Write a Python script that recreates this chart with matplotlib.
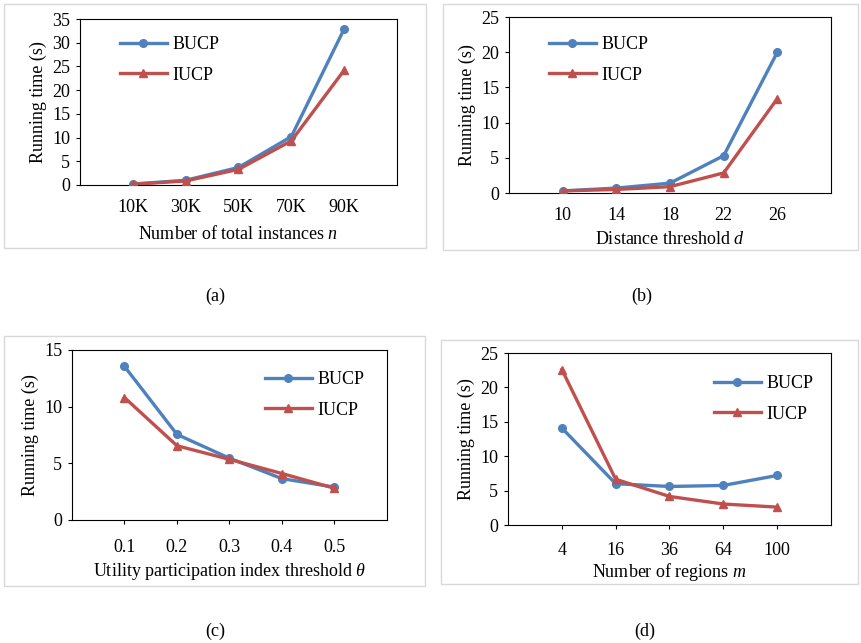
import numpy as np
import matplotlib
matplotlib.use("Agg")
import matplotlib.pyplot as plt
from matplotlib.patches import Rectangle

plt.rcParams['font.family'] = ['Liberation Serif', 'DejaVu Serif']
plt.rcParams['mathtext.fontset'] = 'custom'
plt.rcParams['mathtext.rm'] = 'Liberation Serif'
plt.rcParams['mathtext.it'] = 'Liberation Serif:italic'

# data
labels_a = ["10K", "30K", "50K", "70K", "90K"]
bucp_a = [0.2, 1.0, 3.7, 10.2, 32.9]
iucp_a = [0.15, 0.85, 3.3, 9.3, 24.2]

labels_b = ["10", "14", "18", "22", "26"]
bucp_b = [0.3, 0.7, 1.4, 5.3, 20.0]
iucp_b = [0.3, 0.5, 0.9, 2.85, 13.4]

labels_c = ["0.1", "0.2", "0.3", "0.4", "0.5"]
bucp_c = [13.55, 7.55, 5.45, 3.65, 2.9]
iucp_c = [10.8, 6.55, 5.35, 4.1, 2.8]

labels_d = ["4", "16", "36", "64", "100"]
bucp_d = [14.1, 6.0, 5.6, 5.75, 7.2]
iucp_d = [22.6, 6.65, 4.15, 3.05, 2.6]

W, H = 862, 643
blue = "#4F81BD"
red = "#C0504D"
fs = 13

fig = plt.figure(figsize=(W / 100, H / 100), dpi=100)


def px_rect(x0, y0, x1, y1):
    # pixel box (top-left origin) -> figure fraction rect
    return [x0 / W, 1 - y1 / H, (x1 - x0) / W, (y1 - y0) / H]


panels = [
    # axes box, outer box, labels, bucp, iucp, ymax, ystep, xlabel, legend pos,
    # caption pos, caption, tick pad, label pad
    ((80, 19, 397, 185), (4, 4, 426, 248), labels_a, bucp_a, iucp_a, 35, 5,
     "Number of total instances $n$", (120, 36), (215, 296), "(a)", 10, 6.5),
    ((509, 17, 831, 193), (443, 4, 858, 250), labels_b, bucp_b, iucp_b, 25, 5,
     "Distance threshold $d$", (549, 36), (642, 296), "(b)", 10, 5),
    ((72, 350, 387, 520), (4, 336, 425, 586), labels_c, bucp_c, iucp_c, 15, 5,
     r"Utility participation index threshold $\theta$", (265, 371), (215, 631), "(c)", 11, 3),
    ((508, 353, 831, 525), (441, 340, 858, 584), labels_d, bucp_d, iucp_d, 25, 5,
     "Number of regions $m$", (714, 375), (645, 631), "(d)", 9, 1.5),
]

for box, outer, labels, bucp, iucp, ymax, ystep, xlab, legpos, cappos, cap, xpad, lpad in panels:
    # light grey frame around each chart
    fig.patches.append(Rectangle((outer[0] / W, 1 - outer[3] / H),
                                 (outer[2] - outer[0]) / W, (outer[3] - outer[1]) / H,
                                 transform=fig.transFigure, fill=False,
                                 edgecolor="#d9d9d9", linewidth=1.0))
    ax = fig.add_axes(px_rect(*box))
    x = np.arange(1, len(labels) + 1)
    ax.plot(x, bucp, color=blue, lw=2.4, marker="o", ms=5.5, label="BUCP", zorder=3)
    ax.plot(x, iucp, color=red, lw=2.4, marker="^", ms=6, label="IUCP", zorder=3)
    ax.set_xlim(0, len(labels) + 1)
    ax.set_ylim(0, ymax)
    ax.set_yticks(np.arange(0, ymax + 1, ystep))
    ax.set_xticks(x)
    ax.set_xticklabels(labels)
    ax.tick_params(axis="both", labelsize=fs)
    ax.tick_params(axis="y", length=3, width=0.8, pad=4)
    ax.tick_params(axis="x", length=3 if cap in ("(c)", "(d)") else 0, width=0.8, pad=xpad)
    for s in ax.spines.values():
        s.set_linewidth(0.8)
    ax.set_ylabel("Running time (s)", fontsize=fs, labelpad=4)
    ax.set_xlabel(xlab, fontsize=fs, labelpad=lpad)
    ax.legend(loc="upper left", bbox_to_anchor=(legpos[0] / W, 1 - legpos[1] / H),
              bbox_transform=fig.transFigure, frameon=False, fontsize=fs,
              borderpad=0, borderaxespad=0, handlelength=2.6, handletextpad=0.3,
              labelspacing=0.75)
    fig.text(cappos[0] / W, 1 - cappos[1] / H, cap, ha="center", va="center", fontsize=fs)

fig.savefig("out.png", dpi=100)
